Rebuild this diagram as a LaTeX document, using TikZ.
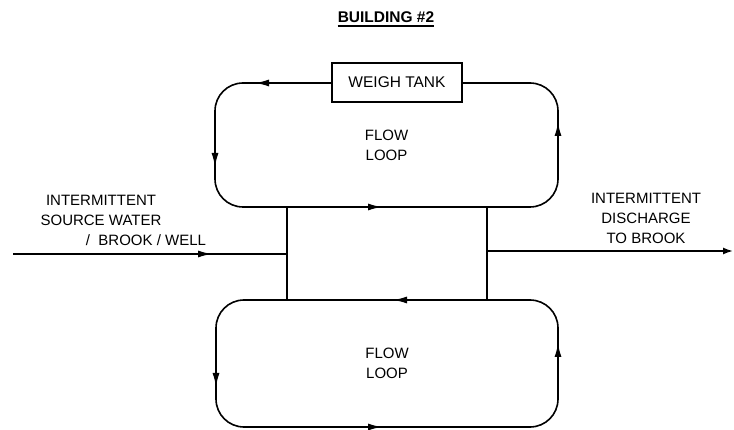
\documentclass[tikz,border=0pt]{standalone}
\usepackage{fontspec}
\setmainfont{Liberation Sans}
\usetikzlibrary{arrows.meta}
\begin{document}
\begin{tikzpicture}[x=1pt,y=-1pt,
  line/.style={line width=1.6pt},
  looprect/.style={draw, line width=1.6pt, rounded corners=28pt, align=center,
    font=\fontsize{15}{20}\selectfont, inner sep=0pt},
  tankbox/.style={draw, fill=white, line width=1.6pt, minimum width=130pt,
    minimum height=39pt, inner sep=0pt, font=\fontsize{15.5}{18}\selectfont},
  lbl/.style={font=\fontsize{15}{20}\selectfont, align=center, inner sep=0pt},
  tip/.style={line width=1.6pt, -{Latex[length=14pt,width=7pt]}}
]
\useasboundingbox (0,0) rectangle (734,430);
% title
\node[font=\bfseries\fontsize{15.5}{18}\selectfont, inner sep=0pt] (title) at (386,17.5) {BUILDING \#2};
\draw[line width=1.8pt] ([yshift=-3pt]title.south west) -- ([yshift=-3pt]title.south east);

% loops
\node[looprect, minimum width=343pt, minimum height=124pt] (top) at (386.5,145) {FLOW\\LOOP};
\node[looprect, minimum width=342pt, minimum height=127pt] (bot) at (387,363.5) {FLOW\\LOOP};
\node[tankbox] (tank) at (397,82.5) {WEIGH TANK};

% junction risers
\coordinate (jl) at (287,254);
\coordinate (jr) at (487,251);
\draw[line] (jl |- top.south) -- (jl |- bot.north);
\draw[line] (jr |- top.south) -- (jr |- bot.north);

% source and discharge
\coordinate (src) at (13,254);
\coordinate (dst) at (733,251);
\draw[line] (src) -- (jl);
\draw[tip] (195,254) -- (212,254);
\draw[line, -{Latex[length=10pt,width=7pt]}] (jr) -- (dst);

% loop direction arrows (top loop)
\draw[tip] (272,83) -- (255,83);
\draw[tip] (215,150) -- (215,167);
\draw[tip] (558,139) -- (558,122);
\draw[tip] (365,207) -- (382,207);
% loop direction arrows (bottom loop)
\draw[tip] (410,300) -- (393,300);
\draw[tip] (216,370) -- (216,387);
\draw[tip] (558,360) -- (558,343);
\draw[tip] (365,427) -- (382,427);

% labels
\node[lbl] (s1) at (101,200) {INTERMITTENT};
\node[lbl] (s2) at (101,220) {SOURCE WATER};
\node[lbl] (s3) at (146,240) {/\ \ BROOK / WELL};
\node[lbl] (d1) at (646,218) {INTERMITTENT\\DISCHARGE\\TO BROOK};
\end{tikzpicture}
\end{document}
